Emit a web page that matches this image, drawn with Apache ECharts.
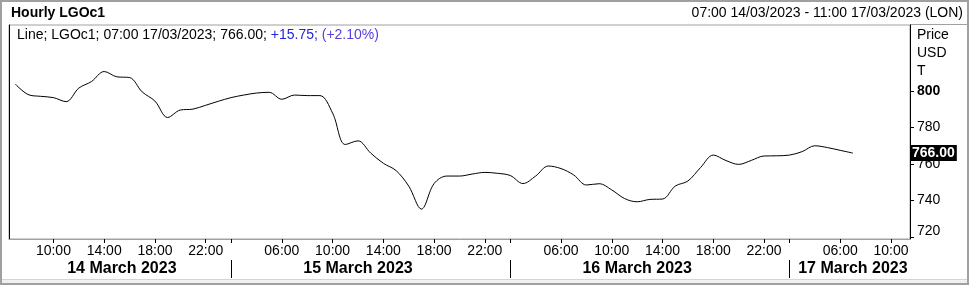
<!DOCTYPE html>
<html>
<head>
<meta charset="utf-8">
<script src="https://cdn.jsdelivr.net/npm/echarts@6/dist/echarts.min.js"></script>
<style>
html,body{margin:0;padding:0;background:#fff;}
#c{width:969px;height:285px;}
</style>
</head>
<body>
<div id="c"></div>
<script>
// Hourly bars (LON time). Trading-hour bars only: 02:00-23:00 each day.
const day14Hours = ['07:00','08:00','09:00','10:00','11:00','12:00','13:00','14:00','15:00','16:00','17:00','18:00','19:00','20:00','21:00','22:00','23:00'];
const fullDayHours = ['02:00','03:00','04:00','05:00','06:00','07:00','08:00','09:00','10:00','11:00','12:00','13:00','14:00','15:00','16:00','17:00','18:00','19:00','20:00','21:00','22:00','23:00'];
const day17Hours = ['02:00','03:00','04:00','05:00','06:00','07:00','08:00','09:00','10:00','11:00'];
const dayNames = {'14/03':'14 March 2023','15/03':'15 March 2023','16/03':'16 March 2023','17/03':'17 March 2023'};

const categories = []
  .concat(day14Hours.map(h => '14/03 ' + h))
  .concat(fullDayHours.map(h => '15/03 ' + h))
  .concat(fullDayHours.map(h => '16/03 ' + h))
  .concat(day17Hours.map(h => '17/03 ' + h));

// Close prices (07:00 14/03 -> 07:00 17/03)
const prices = [
  803.8, 798.1, 797.1, 796.4, 794.2, 801.6, 805.2, 810.7, 807.8, 807.4,
  799.5, 794.5, 785.5, 789.6, 790.1, 792.2, 794.4,
  796.4, 797.8, 798.9, 799.3, 795.5, 797.8, 797.5, 797.5, 787.9, 770.7,
  772.7, 766.0, 760.4, 756.4, 747.9, 735.3, 749.3, 753.4, 753.4, 754.5,
  755.4, 754.9,
  753.7, 749.3, 753.4, 758.9, 757.5, 754.0, 748.5, 749.2, 745.8, 741.1,
  739.3, 740.6, 740.8, 747.9, 750.7, 758.1, 764.9, 761.9, 759.8, 762.0,
  764.4, 764.5,
  764.9, 766.8, 770.0, 769.0, 767.5, 766.0
];

const yTicks = [720, 740, 760, 780, 800];
const timeLabelHours = ['06:00','10:00','14:00','18:00','22:00'];
const timeTickHours = ['02:00','06:00','10:00','14:00','18:00','22:00'];
const dayLabelAt = ['14/03 15:00','15/03 12:00','16/03 12:00','17/03 07:00'];
const daySeparatorAt = ['15/03 02:00','16/03 02:00','17/03 02:00'];

const titleText = 'Hourly LGOc1';
const rangeText = '07:00 14/03/2023 - 11:00 17/03/2023 (LON)';
const lastValue = prices[prices.length - 1];
const change = 15.75, changePct = 2.10;
const yMin = 718.9, yMax = 836.2;

const FONT = '"Liberation Sans", Arial, sans-serif';
const chart = echarts.init(document.getElementById('c'), null, {renderer: 'canvas'});

const hourOf = v => v.split(' ')[1];
const dayOf = v => v.split(' ')[0];

chart.setOption({
  animation: false,
  backgroundColor: '#fff',
  textStyle: {fontFamily: FONT},
  title: [
    {text: titleText, left: 11, top: 6, padding: 0,
     textStyle: {fontFamily: FONT, fontSize: 14, fontWeight: 'bold', color: '#000'}},
    {text: rangeText, right: 6, top: 6, padding: 0,
     textStyle: {fontFamily: FONT, fontSize: 14, fontWeight: 'normal', color: '#000'}},
    {text: '{k|Line; LGOc1; 07:00 17/03/2023; ' + lastValue.toFixed(2) + '; }{b|+' + change.toFixed(2) + '; }{p|(+' + changePct.toFixed(2) + '%)}',
     left: 17, top: 28, padding: 0,
     textStyle: {fontWeight: 'normal', rich: {
       k: {fontFamily: FONT, fontSize: 14, fontWeight: 'normal', color: '#000'},
       b: {fontFamily: FONT, fontSize: 14, fontWeight: 'normal', color: '#2424dc'},
       p: {fontFamily: FONT, fontSize: 14, fontWeight: 'normal', color: '#5a3ce0'}
     }}},
    {text: 'Price\nUSD\nT', left: 917, top: 26, padding: 0,
     textStyle: {fontFamily: FONT, fontSize: 14, fontWeight: 'normal', color: '#000', lineHeight: 18}}
  ],
  graphic: [
    {type: 'rect', silent: true, z: -1, shape: {x: 0, y: 279, width: 969, height: 6}, style: {fill: '#f0f0f0', stroke: null}},
    {type: 'line', silent: true, shape: {x1: 0, y1: 279.5, x2: 969, y2: 279.5}, style: {stroke: '#d4d4d4', lineWidth: 1}},
    {type: 'line', silent: true, shape: {x1: 910, y1: 24.5, x2: 969, y2: 24.5}, style: {stroke: '#a0a0a0', lineWidth: 1}},
    {type: 'rect', silent: true, shape: {x: 1, y: 1, width: 967, height: 283}, style: {fill: null, stroke: '#a0a0a0', lineWidth: 2}}
  ],
  grid: {left: 9, right: 59, top: 25, bottom: 46, show: true, borderColor: '#a0a0a0', borderWidth: 1, backgroundColor: '#fff'},
  xAxis: [
    {
      type: 'category', data: categories, boundaryGap: true, position: 'bottom',
      axisLine: {show: true, lineStyle: {color: '#a0a0a0', width: 1}},
      axisTick: {show: true, alignWithLabel: true, length: 4, lineStyle: {color: '#000'},
        interval: (i, v) => timeTickHours.indexOf(hourOf(v)) >= 0},
      axisLabel: {show: true, margin: 5, fontFamily: FONT, fontSize: 14, color: '#000',
        interval: (i, v) => timeLabelHours.indexOf(hourOf(v)) >= 0,
        formatter: v => hourOf(v)},
      splitLine: {show: false}
    },
    {
      type: 'category', data: categories, boundaryGap: true, position: 'bottom', offset: 21,
      axisLine: {show: false},
      axisTick: {show: true, alignWithLabel: true, length: 18, lineStyle: {color: '#000'},
        interval: (i, v) => daySeparatorAt.indexOf(v) >= 0},
      axisLabel: {show: true, margin: 1, fontFamily: FONT, fontSize: 16, fontWeight: 'bold', color: '#000',
        interval: (i, v) => dayLabelAt.indexOf(v) >= 0,
        formatter: v => dayOf(v) === '14/03' ? '{s|' + dayNames[dayOf(v)] + '}' : dayNames[dayOf(v)],
        rich: {s: {fontFamily: FONT, fontSize: 16, fontWeight: 'bold', color: '#000', padding: [0, 0, 0, 10]}}},
      splitLine: {show: false}
    }
  ],
  yAxis: [
    {
      type: 'value', position: 'right', min: yMin, max: yMax, scale: true,
      axisLine: {show: true, lineStyle: {color: '#000', width: 1}},
      axisTick: {show: true, inside: false, length: 4, customValues: yTicks, lineStyle: {color: '#000'}},
      axisLabel: {show: true, margin: 7, customValues: yTicks, fontFamily: FONT, fontSize: 14, color: '#000',
        formatter: v => v === 800 ? '{b|' + v + '}' : (v === 720 ? '{l|' + v + '}' : String(v)),
        rich: {
          b: {fontFamily: FONT, fontSize: 14, fontWeight: 'bold', color: '#000'},
          l: {fontFamily: FONT, fontSize: 14, color: '#000', padding: [0, 0, 11, 0]}
        }},
      splitLine: {show: false}
    },
    {
      type: 'value', position: 'left', min: yMin, max: yMax, scale: true,
      axisLine: {show: true, lineStyle: {color: '#000', width: 1}},
      axisTick: {show: false}, axisLabel: {show: false}, splitLine: {show: false}
    },
    {
      type: 'value', position: 'right', min: yMin, max: yMax, scale: true, z: 20,
      axisLine: {show: false}, axisTick: {show: false}, splitLine: {show: false},
      axisLabel: {show: true, margin: 1, customValues: [lastValue],
        formatter: v => Number(v).toFixed(2),
        fontFamily: FONT, fontSize: 14, fontWeight: 'bold', color: '#fff',
        backgroundColor: '#000', padding: [1, 2, 1, 1], lineHeight: 14}
    }
  ],
  series: [{
    type: 'line', xAxisIndex: 0, yAxisIndex: 0,
    data: prices, smooth: 0.35, showSymbol: false, symbol: 'none',
    lineStyle: {color: '#000', width: 1}
  }]
});
</script>
</body>
</html>
